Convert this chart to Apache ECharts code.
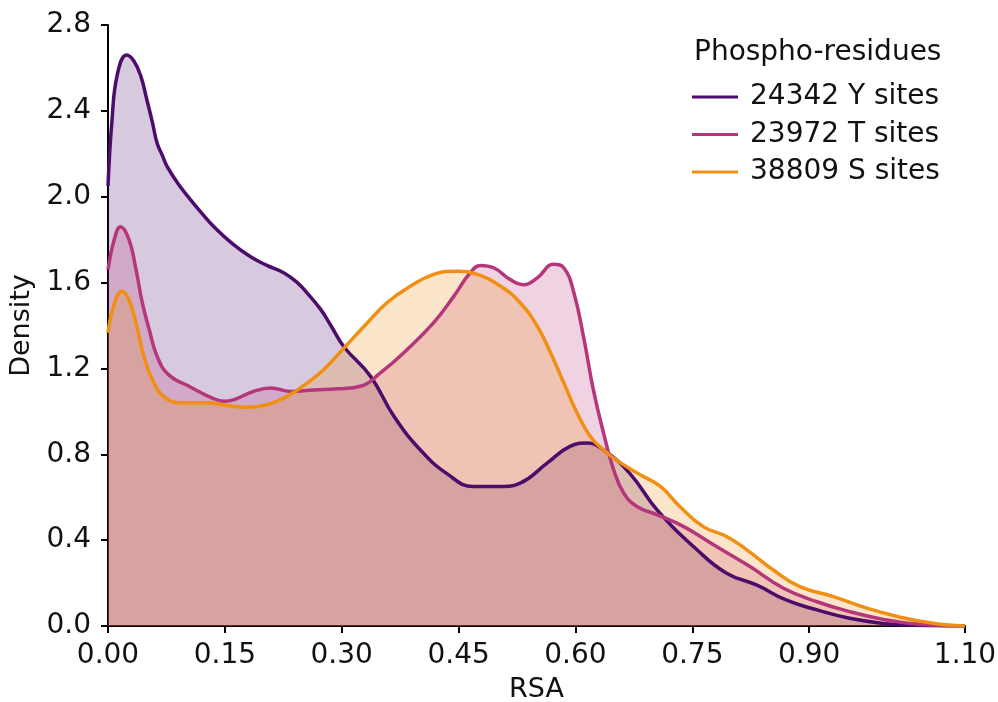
<!DOCTYPE html>
<html>
<head>
<meta charset="utf-8">
<script src="https://cdn.jsdelivr.net/npm/echarts@6/dist/echarts.min.js"></script>
<style>
    html, body { margin: 0; padding: 0; background: #fff; }
    #chart { width: 998px; height: 702px; }
</style>
</head>
<body>
<div id="chart"></div>
<script>
// KDE curves (RSA vs density)
var yRsa = [0, 0.005, 0.012, 0.024, 0.033, 0.042, 0.05, 0.057, 0.063, 0.07, 0.076, 0.09, 0.105, 0.12, 0.136, 0.16, 0.183, 0.204, 0.226, 0.243, 0.256, 0.273, 0.286, 0.303, 0.337, 0.367, 0.401, 0.435, 0.469, 0.504, 0.529, 0.564, 0.593, 0.615, 0.636, 0.67, 0.705, 0.756, 0.794, 0.833, 0.871, 0.91, 0.952, 0.995, 1.036, 1.1]
var yDensity = [2.05, 2.35, 2.57, 2.66, 2.633, 2.563, 2.45, 2.346, 2.25, 2.19, 2.14, 2.06, 1.99, 1.925, 1.86, 1.78, 1.72, 1.68, 1.645, 1.6, 1.55, 1.475, 1.4, 1.3, 1.163, 0.977, 0.82, 0.71, 0.65, 0.65, 0.666, 0.76, 0.837, 0.852, 0.82, 0.71, 0.54, 0.355, 0.246, 0.19, 0.12, 0.075, 0.036, 0.012, 0.003, 0]

var tRsa = [0, 0.008, 0.016, 0.027, 0.036, 0.044, 0.053, 0.063, 0.078, 0.104, 0.134, 0.149, 0.162, 0.187, 0.209, 0.234, 0.264, 0.294, 0.324, 0.35, 0.384, 0.418, 0.444, 0.465, 0.478, 0.495, 0.516, 0.534, 0.551, 0.572, 0.585, 0.598, 0.611, 0.623, 0.636, 0.649, 0.662, 0.679, 0.705, 0.739, 0.781, 0.824, 0.867, 0.91, 0.952, 0.995, 1.038, 1.1]
var tDensity = [1.66, 1.8, 1.86, 1.8, 1.66, 1.506, 1.38, 1.257, 1.17, 1.117, 1.062, 1.047, 1.055, 1.093, 1.109, 1.093, 1.1, 1.105, 1.117, 1.18, 1.288, 1.413, 1.537, 1.646, 1.68, 1.669, 1.615, 1.59, 1.622, 1.685, 1.669, 1.553, 1.335, 1.1, 0.9, 0.728, 0.619, 0.557, 0.518, 0.463, 0.37, 0.277, 0.176, 0.113, 0.067, 0.031, 0.009, 0]

var sRsa = [0, 0.008, 0.018, 0.027, 0.036, 0.046, 0.059, 0.074, 0.095, 0.127, 0.153, 0.179, 0.204, 0.23, 0.256, 0.277, 0.303, 0.333, 0.358, 0.388, 0.418, 0.448, 0.474, 0.504, 0.529, 0.551, 0.568, 0.585, 0.602, 0.619, 0.636, 0.658, 0.683, 0.709, 0.734, 0.764, 0.794, 0.82, 0.854, 0.888, 0.931, 0.974, 1.017, 1.059, 1.1]
var sDensity = [1.366, 1.5, 1.56, 1.52, 1.41, 1.257, 1.133, 1.062, 1.04, 1.04, 1.027, 1.019, 1.031, 1.07, 1.133, 1.195, 1.296, 1.413, 1.506, 1.583, 1.638, 1.653, 1.638, 1.583, 1.506, 1.397, 1.273, 1.133, 0.993, 0.883, 0.82, 0.76, 0.705, 0.65, 0.557, 0.463, 0.417, 0.355, 0.261, 0.183, 0.137, 0.083, 0.041, 0.013, 0]

var seriesNames = ['24342 Y sites', '23972 T sites', '38809 S sites']
var seriesColors = ['#4b0c6b', '#b5367a', '#f08f12']
var xTicks = [0, 0.15, 0.3, 0.45, 0.6, 0.75, 0.9, 1.1]

function pairs(xs, ys) {
    return xs.map(function (x, i) { return [x, ys[i]] })
}

var curves = [pairs(yRsa, yDensity), pairs(tRsa, tDensity), pairs(sRsa, sDensity)]
var font = 'DejaVu Sans'

var chart = echarts.init(document.getElementById('chart'))
chart.setOption({
    animation: false,
    title: {
        text: 'Phospho-residues',
        left: 694,
        top: 39,
        padding: 0,
        textStyle: { fontFamily: font, fontSize: 28, fontWeight: 'normal', color: '#111' }
    },
    legend: {
        orient: 'vertical',
        left: 692,
        top: 82,
        padding: 0,
        icon: 'rect',
        itemWidth: 46,
        itemHeight: 3,
        itemGap: 7.5,
        textStyle: { fontFamily: font, fontSize: 28, color: '#111', lineHeight: 30, padding: [0, 0, 0, 7] },
        data: seriesNames
    },
    grid: { left: 108, right: 33, top: 25, bottom: 76, outerBoundsMode: 'none' },
    xAxis: {
        type: 'value',
        min: 0,
        max: 1.1,
        name: 'RSA',
        nameLocation: 'middle',
        nameGap: 50,
        nameTextStyle: { fontFamily: font, fontSize: 27, color: '#111' },
        axisLine: { lineStyle: { color: '#000', width: 2 } },
        axisTick: { customValues: xTicks, length: 7, lineStyle: { color: '#000', width: 2 } },
        axisLabel: {
            customValues: xTicks,
            margin: 16,
            fontFamily: font,
            fontSize: 28,
            color: '#111',
            formatter: function (v) { return v.toFixed(2) }
        },
        splitLine: { show: false }
    },
    yAxis: {
        type: 'value',
        min: 0,
        max: 2.8,
        interval: 0.4,
        name: 'Density',
        nameLocation: 'middle',
        nameGap: 68,
        nameTextStyle: { fontFamily: font, fontSize: 27, color: '#111' },
        axisLine: { show: true, lineStyle: { color: '#000', width: 2 } },
        axisTick: { show: true, length: 7, lineStyle: { color: '#000', width: 2 } },
        axisLabel: {
            margin: 17,
            fontFamily: font,
            fontSize: 28,
            color: '#111',
            formatter: function (v) { return v.toFixed(1) }
        },
        splitLine: { show: false }
    },
    series: curves.map(function (data, i) {
        return {
            name: seriesNames[i],
            type: 'line',
            data: data,
            smooth: 0.45,
            showSymbol: false,
            symbol: 'none',
            color: seriesColors[i],
            lineStyle: { color: seriesColors[i], width: 3.5 },
            areaStyle: { color: seriesColors[i], opacity: 0.22 }
        }
    })
})
</script>
</body>
</html>
